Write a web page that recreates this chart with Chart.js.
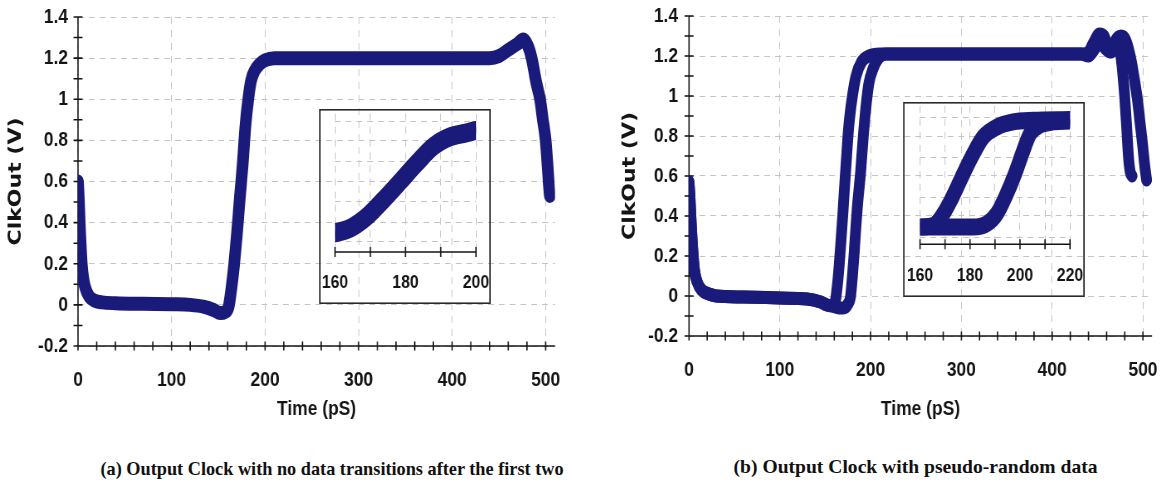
<!DOCTYPE html>
<html>
<head>
<meta charset="utf-8">
<script src="https://cdn.jsdelivr.net/npm/chart.js@4.4.1/dist/chart.umd.min.js"></script>
<style>
body { margin: 0; background: #fff; width: 1160px; height: 491px; position: relative; overflow: hidden; }
canvas { position: absolute; transform-origin: 0 0; }
.cap { position: absolute; font-family: 'Liberation Serif', 'Times New Roman', serif; font-weight: bold; font-size: 19px; white-space: nowrap; color: #111; transform-origin: center center; }
</style>
</head>
<body>
<canvas id="mainA"></canvas>
<canvas id="mainB"></canvas>
<canvas id="insetA"></canvas>
<canvas id="insetB"></canvas>
<div class="cap" id="capA">(a) Output Clock with no data transitions after the first two</div>
<div class="cap" id="capB">(b) Output Clock with pseudo-random data</div>
<script>
// (a) clock with no data transitions
var leftTime = [0, 1, 2, 4, 6, 8, 12, 18, 26, 40, 70, 100, 120, 135, 145, 152, 157, 161, 164, 167, 170, 173, 176, 179, 182, 185, 189, 194, 200, 210, 250, 300, 350, 400, 440, 450, 460, 470, 476, 481, 485, 490, 494, 497, 500, 502, 503.5, 504.5];
var leftVolt = [0.6, 0.5, 0.38, 0.2, 0.12, 0.08, 0.04, 0.02, 0.012, 0.008, 0.005, 0.003, 0.0, -0.01, -0.025, -0.04, -0.035, -0.01, 0.08, 0.2, 0.35, 0.52, 0.68, 0.87, 1.0, 1.09, 1.14, 1.17, 1.19, 1.2, 1.2, 1.2, 1.2, 1.2, 1.2, 1.21, 1.24, 1.27, 1.29, 1.26, 1.2, 1.08, 1.0, 0.9, 0.8, 0.68, 0.58, 0.53];

// (b) pseudo-random data: early and late edges
var rightTimeA = [0, 1, 2, 4, 6, 9, 14, 22, 30, 60, 100, 130, 145, 152, 158, 161, 164, 167, 170, 173, 176, 180, 184, 190, 198, 210, 260, 300, 350, 400, 432, 440, 446, 452, 457, 461, 465, 470, 475, 479, 482, 484, 486, 488];
var rightVoltA = [0.57, 0.5, 0.4, 0.24, 0.13, 0.07, 0.03, 0.01, 0.0, -0.005, -0.01, -0.015, -0.03, -0.045, -0.05, -0.03, 0.08, 0.25, 0.45, 0.66, 0.85, 1.0, 1.1, 1.17, 1.2, 1.21, 1.21, 1.21, 1.21, 1.21, 1.21, 1.22, 1.27, 1.31, 1.3, 1.25, 1.22, 1.26, 1.22, 1.05, 0.85, 0.7, 0.62, 0.6];
var rightTimeB = [0, 1, 2, 4, 6, 9, 14, 22, 30, 60, 100, 130, 145, 152, 158, 165, 170, 175, 178, 180, 182, 185, 189, 192, 195, 198, 203, 209, 217, 260, 300, 350, 400, 432, 440, 446, 452, 458, 464, 470, 476, 481, 486, 490, 494, 497, 500, 502, 504];
var rightVoltB = [0.57, 0.5, 0.4, 0.24, 0.13, 0.07, 0.03, 0.01, 0.0, -0.005, -0.01, -0.015, -0.03, -0.045, -0.05, -0.06, -0.06, -0.04, 0.0, 0.1, 0.22, 0.42, 0.62, 0.8, 0.95, 1.06, 1.14, 1.19, 1.21, 1.21, 1.21, 1.21, 1.21, 1.21, 1.2, 1.23, 1.27, 1.24, 1.22, 1.28, 1.3, 1.28, 1.2, 1.1, 0.98, 0.86, 0.74, 0.65, 0.58];

// insets (zoom on the rising edge)
var leftInsetTime = [159.5, 164.3, 169, 173.7, 178.5, 183.2, 187.9, 192.7, 197.4, 199.8];
var leftInsetVolt = [0.105, 0.167, 0.31, 0.52, 0.75, 0.98, 1.19, 1.31, 1.36, 1.39];
var rightInsetTimeA = [160, 165.3, 169.3, 173.3, 177.3, 181.3, 185.3, 190.7, 197.3, 205.3, 220];
var rightInsetVoltA = [0.125, 0.146, 0.29, 0.52, 0.79, 1.04, 1.25, 1.375, 1.44, 1.46, 1.47];
var rightInsetTimeB = [160, 170, 181.3, 186.7, 190.7, 194.7, 198, 201.3, 204, 208, 213.3, 220];
var rightInsetVoltB = [0.125, 0.125, 0.125, 0.167, 0.29, 0.54, 0.79, 1.08, 1.29, 1.4, 1.44, 1.45];

// axis ticks
var mainXLabels = [0, 100, 200, 300, 400, 500];
var mainYLabels = [-0.2, 0, 0.2, 0.4, 0.6, 0.8, 1, 1.2, 1.4];
var leftInsetLabels = [160, 180, 200];
var rightInsetLabels = [160, 180, 200, 220];

var NAVY = '#1a1a7a';
var GRID = '#c4c4c4';
var INK = '#141414';
var SQ = 0.83; // the figure is horizontally compressed
var tickFont = { family: "'Liberation Sans', Arial, sans-serif", size: 21, weight: 'bold' };
var insetFont = { family: "'Liberation Sans', Arial, sans-serif", size: 19, weight: 'bold' };

function setupCanvas(id, left, top, w, h) {
    var c = document.getElementById(id);
    var cw = Math.round(w / SQ);
    c.width = cw; c.height = h;
    c.style.width = cw + 'px'; c.style.height = h + 'px';
    c.style.left = left + 'px'; c.style.top = top + 'px';
    c.style.transform = 'scaleX(' + SQ + ')';
    return c;
}

function pts(xs, ys) {
    return xs.map(function(v, i) { return { x: v, y: ys[i] }; });
}

function series(xs, ys, w) {
    return {
        data: pts(xs, ys),
        borderColor: NAVY,
        borderWidth: w,
        pointRadius: 0,
        borderCapStyle: 'round',
        borderJoinStyle: 'round',
        cubicInterpolationMode: 'monotone',
        fill: false
    };
}

// axis lines with ticks crossing them
var axesPlugin = {
    id: 'axes',
    beforeDatasetsDraw: function(chart, args, o) {
        var ctx = chart.ctx, a = chart.chartArea;
        var x = chart.scales.x, y = chart.scales.y;
        ctx.save();
        ctx.strokeStyle = INK;
        ctx.lineWidth = 1.6;
        ctx.beginPath();
        ctx.moveTo(a.left, a.bottom);
        ctx.lineTo(a.right, a.bottom);
        if (o.yAxis) {
            ctx.moveTo(a.left, a.top);
            ctx.lineTo(a.left, a.bottom);
        }
        for (var v = o.xFrom; v <= o.xTo + 1e-9; v += o.xStep) {
            var px = x.getPixelForValue(v);
            ctx.moveTo(px, a.bottom - o.half);
            ctx.lineTo(px, a.bottom + o.half);
        }
        if (o.yAxis) {
            for (var k = 0; k <= 16; k++) {
                var py = y.getPixelForValue(-0.2 + k * 0.1);
                ctx.moveTo(a.left - o.half / SQ, py);
                ctx.lineTo(a.left + o.half / SQ, py);
            }
        }
        ctx.stroke();
        ctx.restore();
    },
    afterDraw: function(chart, args, o) {
        if (!o.frame) return;
        var ctx = chart.ctx;
        ctx.save();
        ctx.strokeStyle = '#2a2a2a';
        ctx.lineWidth = 1.6;
        ctx.strokeRect(1, 0.8, chart.width - 2, chart.height - 1.6);
        ctx.restore();
    }
};

function mainChart(id, sets, o) {
    return new Chart(document.getElementById(id), {
        type: 'line',
        data: { datasets: sets },
        options: {
            responsive: false,
            animation: false,
            events: [],
            layout: { padding: { left: 0, top: o.top, right: o.right, bottom: 0 } },
            plugins: {
                legend: { display: false },
                tooltip: { enabled: false },
                axes: { yAxis: true, xFrom: 0, xTo: 500, xStep: 20, half: 4.5 }
            },
            scales: {
                x: {
                    type: 'linear', min: 0, max: 510,
                    afterBuildTicks: function(s) { s.ticks = mainXLabels.map(function(v) { return { value: v }; }); },
                    afterFit: function(s) { s.height = o.xh; s.paddingLeft = 0; s.paddingRight = 0; },
                    ticks: { padding: 22, color: INK, font: tickFont, maxRotation: 0, autoSkip: false },
                    grid: { color: GRID, drawTicks: false, lineWidth: 1 },
                    border: { display: false, dash: [7, 6] },
                    title: { display: true, text: 'Time (pS)', color: INK,
                        font: { family: "'Liberation Sans', Arial, sans-serif", size: 21, weight: 'bold' },
                        padding: { top: 0, bottom: 18 } }
                },
                y: {
                    type: 'linear', min: -0.2, max: 1.4,
                    afterBuildTicks: function(s) { s.ticks = mainYLabels.map(function(v) { return { value: v }; }); },
                    afterFit: function(s) { s.width = o.yw; s.paddingTop = 0; s.paddingBottom = 0; },
                    ticks: { padding: o.tickPad, color: INK, font: tickFont, callback: function(v) { return String(Math.round(v * 10) / 10); } },
                    grid: { color: GRID, drawTicks: false, lineWidth: 1 },
                    border: { display: false, dash: [7, 6] },
                    title: { display: true, text: 'ClkOut (V)', color: INK,
                        font: { family: "'DejaVu Sans', Verdana, sans-serif", size: 22, weight: 'bold' },
                        padding: { top: o.yTitlePad, bottom: 0 } }
                }
            }
        },
        plugins: [axesPlugin]
    });
}

function insetChart(id, sets, o) {
    return new Chart(document.getElementById(id), {
        type: 'line',
        data: { datasets: sets },
        options: {
            responsive: false,
            animation: false,
            events: [],
            layout: { padding: { left: o.left, top: o.top, right: o.right, bottom: 0 } },
            plugins: {
                legend: { display: false },
                tooltip: { enabled: false },
                axes: { yAxis: false, xFrom: o.min, xTo: o.max, xStep: 10, half: 5, frame: true }
            },
            scales: {
                x: {
                    type: 'linear', min: o.min, max: o.max,
                    ticks: { stepSize: 10, padding: o.pad, color: INK, font: insetFont, maxRotation: 0, minRotation: 0, autoSkip: false,
                        callback: function(v) { return o.labels.indexOf(v) >= 0 ? String(v) : ''; } },
                    afterFit: function(s) { s.height = o.xh; s.paddingLeft = 0; s.paddingRight = 0; },
                    grid: { color: GRID, drawTicks: false, lineWidth: 1 },
                    border: { display: false, dash: [7, 6] }
                },
                y: {
                    type: 'linear', min: o.ymin, max: o.ymax,
                    afterBuildTicks: function(s) { s.ticks = [0, 0.5, 1, 1.5].map(function(v) { return { value: v }; }); },
                    afterFit: function(s) { s.width = 0; s.paddingTop = 0; s.paddingBottom = 0; },
                    ticks: { display: false },
                    grid: { color: GRID, drawTicks: false, lineWidth: 1 },
                    border: { display: false, dash: [7, 6] }
                }
            }
        },
        plugins: [axesPlugin]
    });
}

setupCanvas('mainA', 0, 0, 580, 440);
setupCanvas('mainB', 580, 0, 580, 440);
setupCanvas('insetA', 319, 109, 172, 195);
setupCanvas('insetB', 903, 102, 182, 195);

// chart geometry below is in the canvas' own (uncompressed) pixels
mainChart('mainA', [series(leftTime, leftVolt, 14)],
    { top: 17, right: 699 - 555 / SQ, yw: 78 / SQ, xh: 94, tickPad: 10 / SQ, yTitlePad: 16 / SQ - 13 });
mainChart('mainB', [series(rightTimeA, rightVoltA, 13), series(rightTimeB, rightVoltB, 13)],
    { top: 16, right: 699 - 572 / SQ, yw: 109 / SQ, xh: 104, tickPad: 11 / SQ, yTitlePad: 50 / SQ - 13 });

insetChart('insetA', [series(leftInsetTime, leftInsetVolt, 19)],
    { min: 160, max: 200, labels: leftInsetLabels, left: 16 / SQ, right: 207 - 157 / SQ, top: 4.6, xh: 52, pad: 19, ymin: -0.13, ymax: 1.6 });
insetChart('insetB', [series(rightInsetTimeA, rightInsetVoltA, 17), series(rightInsetTimeB, rightInsetVoltB, 17)],
    { min: 160, max: 220, labels: rightInsetLabels, left: 17 / SQ, right: 219 - 167 / SQ, top: 3.9, xh: 52.7, pad: 20, ymin: -0.09, ymax: 1.64 });

function placeCaption(id, cx, cy, w) {
    var el = document.getElementById(id);
    var r = el.getBoundingClientRect();
    el.style.left = (cx - r.width / 2) + 'px';
    el.style.top = (cy - r.height / 2) + 'px';
    el.style.transform = 'scaleX(' + (w / r.width) + ')';
}
placeCaption('capA', 332, 469, 463);
placeCaption('capB', 916, 467, 364);
</script>
</body>
</html>
